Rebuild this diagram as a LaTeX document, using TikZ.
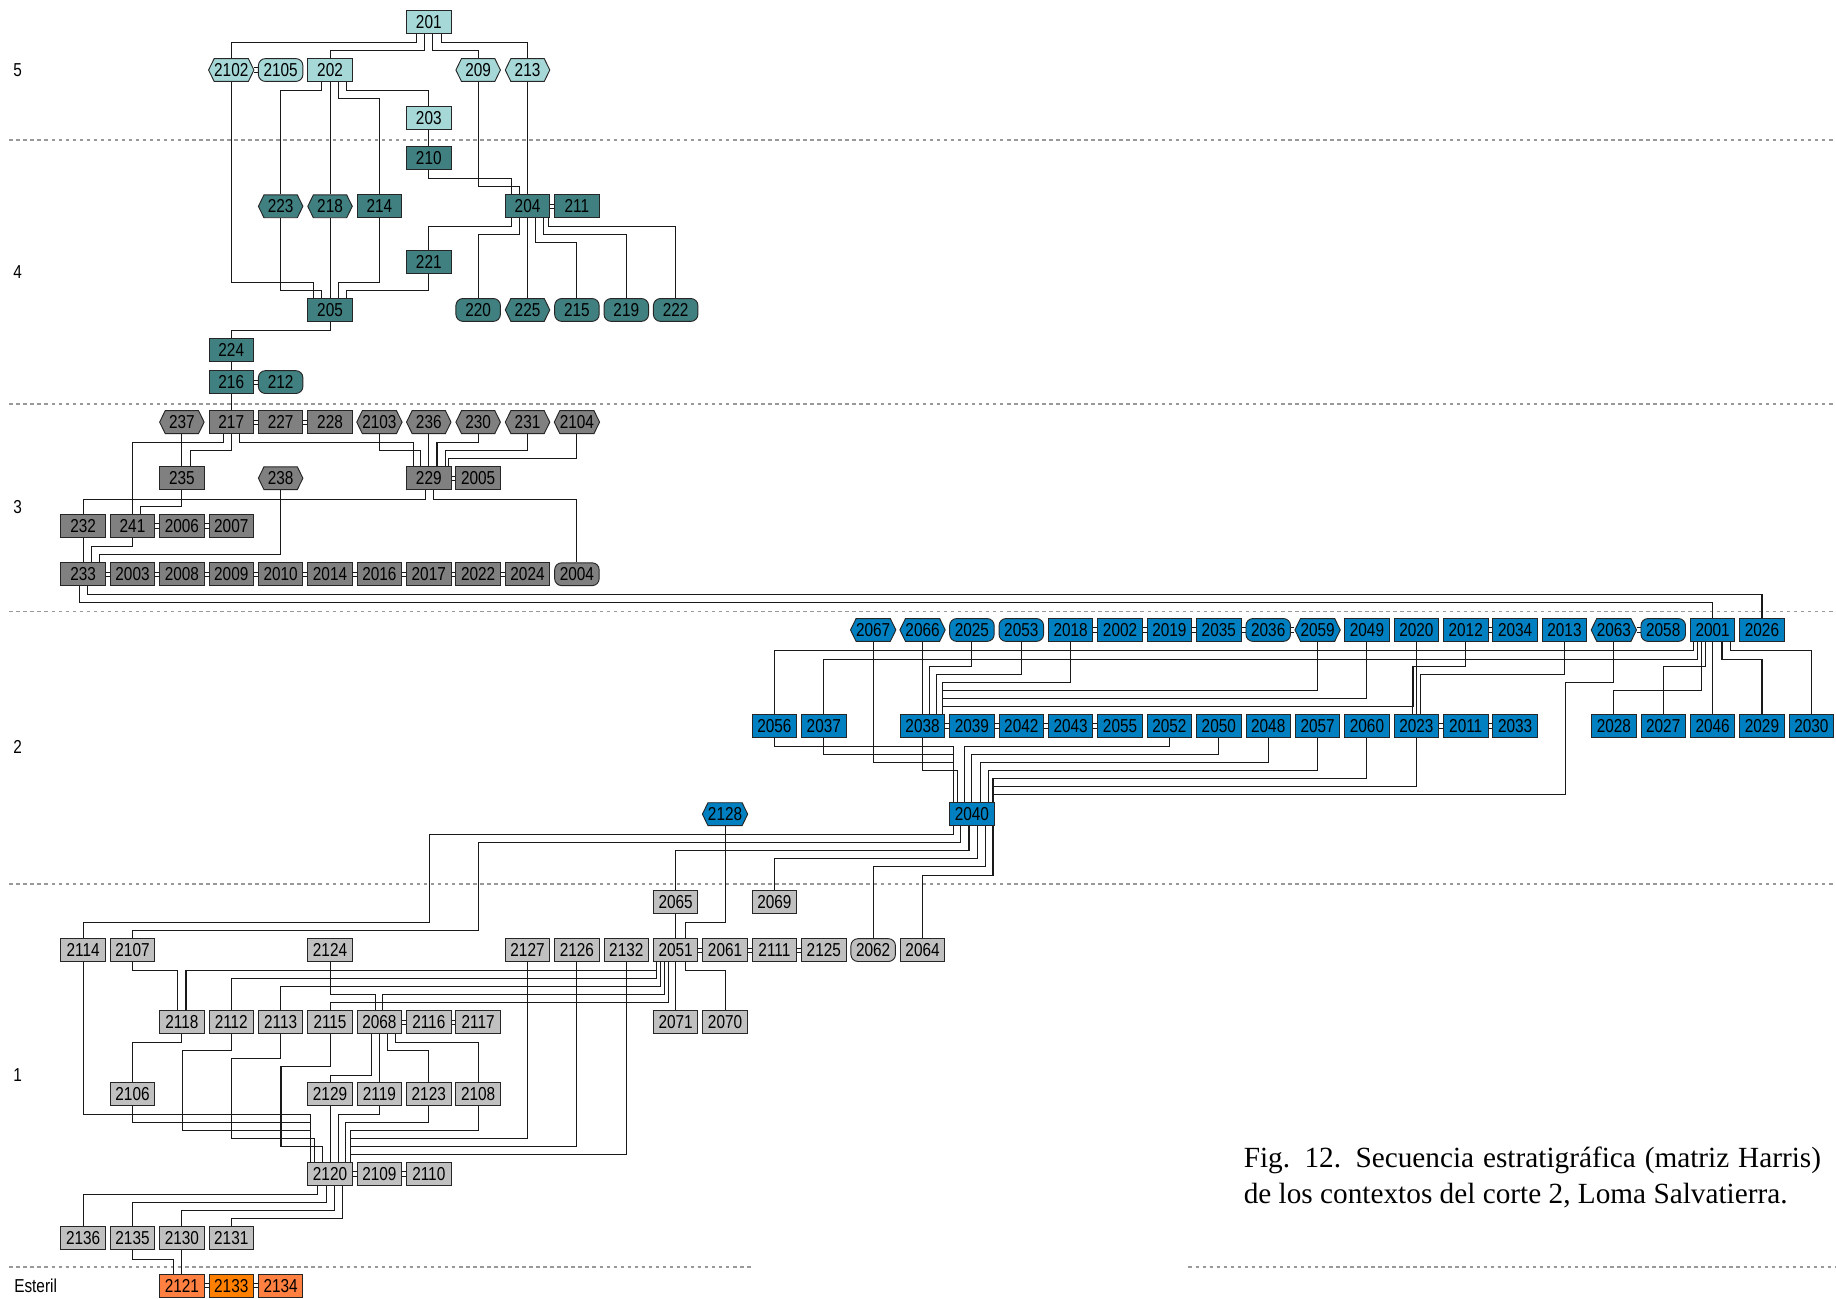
\documentclass[tikz,border=0pt]{standalone}
\usepackage{fontspec}
\usetikzlibrary{shapes.symbols,shapes.misc}
\newfontfamily\boxfont[FakeStretch=0.82]{Liberation Sans}
\newfontfamily\capfont{Liberation Serif}
\definecolor{lcyan}{RGB}{166,216,216}
\definecolor{tealL}{RGB}{64,128,128}
\definecolor{dgreyL}{RGB}{128,128,128}
\definecolor{blueL}{RGB}{0,128,192}
\definecolor{lgreyL}{RGB}{192,192,192}
\definecolor{orA}{RGB}{255,128,64}
\definecolor{orB}{RGB}{255,128,0}
\newcommand\N[4]{\node[box,#1] (n#4) at ({71+42.17*#2},#3) {#4};}
\newcommand\E[5]{\path ([xshift=#2pt]#1.south) coordinate (eA) ([xshift=#5pt]#4.north) coordinate (eB);
  \draw[conn] (eA) -- (eA |- 0,#3) -| (eB);}
\newcommand\Sd[2]{\draw[conn] (#1.south) -- (#2.north);}
\newcommand\Q[2]{\draw[eqv] ([yshift=1.8pt]#1.east) -- ([yshift=1.8pt]#2.west) ([yshift=-1.8pt]#1.east) -- ([yshift=-1.8pt]#2.west);}
\begin{document}
\begin{tikzpicture}[x=1pt,y=-1pt,
  box/.style={shape=rectangle,minimum width=38pt,minimum height=19.5pt,inner sep=0pt,
    draw=black!85,line width=0.8pt,font=\boxfont\fontsize{16}{16}\selectfont},
  hx/.style={shape=signal,signal to=east and west,signal pointer angle=128},
  rd/.style={rounded corners=6pt},
  L5/.style={fill=lcyan},
  L4/.style={fill=tealL},
  L3/.style={fill=dgreyL},
  L2/.style={fill=blueL},
  L1/.style={fill=lgreyL},
  LoA/.style={fill=orA},
  LoB/.style={fill=orB},
  conn/.style={draw=black!90,line width=0.9pt},
  eqv/.style={draw=black!90,line width=0.8pt},
  sepline/.style={draw=black!40,line width=1pt,dash pattern=on 3pt off 3pt},
  lvl/.style={font=\boxfont\fontsize{16}{16}\selectfont,inner sep=0pt}]
\fill[white] (0,0) rectangle (1568,1109);
\useasboundingbox (0,0) rectangle (1568,1109);
% level separators
\draw[sepline] (8,119.5) -- (1568,119.5);
\draw[sepline] (8,345) -- (1568,345);
\draw[sepline] (8,522.5) -- (1568,522.5);
\draw[sepline] (8,755) -- (1568,755);
\draw[sepline] (8,1082) -- (642,1082);
\draw[sepline] (1015,1082) -- (1568,1082);
% level labels
\node[lvl] (lab5) at (15,60) {5};
\node[lvl] (lab4) at (15,232) {4};
\node[lvl] (lab3) at (15,433) {3};
\node[lvl] (lab2) at (15,638) {2};
\node[lvl] (lab1) at (15,918) {1};
\node[lvl,anchor=west] (labE) at (12,1098) {Esteril};
% ---- level 5
\N{L5}{7}{18.8}{201}
\N{L5,hx}{3}{59.8}{2102}
\N{L5,rd}{4}{59.8}{2105}
\N{L5}{5}{59.8}{202}
\N{L5,hx}{8}{59.8}{209}
\N{L5,hx}{9}{59.8}{213}
\N{L5}{7}{100.8}{203}
% ---- level 4
\N{L4}{7}{135}{210}
\N{L4,hx}{4}{176.2}{223}
\N{L4,hx}{5}{176.2}{218}
\N{L4}{6}{176.2}{214}
\N{L4}{9}{176.2}{204}
\N{L4}{10}{176.2}{211}
\N{L4}{7}{224}{221}
\N{L4}{5}{264.7}{205}
\N{L4,rd}{8}{264.7}{220}
\N{L4,hx}{9}{264.7}{225}
\N{L4,rd}{10}{264.7}{215}
\N{L4,rd}{11}{264.7}{219}
\N{L4,rd}{12}{264.7}{222}
\N{L4}{3}{299}{224}
\N{L4}{3}{326.3}{216}
\N{L4,rd}{4}{326.3}{212}
% ---- level 3
\N{L3,hx}{2}{360.5}{237}
\N{L3}{3}{360.5}{217}
\N{L3}{4}{360.5}{227}
\N{L3}{5}{360.5}{228}
\N{L3,hx}{6}{360.5}{2103}
\N{L3,hx}{7}{360.5}{236}
\N{L3,hx}{8}{360.5}{230}
\N{L3,hx}{9}{360.5}{231}
\N{L3,hx}{10}{360.5}{2104}
\N{L3}{2}{408.4}{235}
\N{L3,hx}{4}{408.4}{238}
\N{L3}{7}{408.4}{229}
\N{L3}{8}{408.4}{2005}
\N{L3}{0}{449.1}{232}
\N{L3}{1}{449.1}{241}
\N{L3}{2}{449.1}{2006}
\N{L3}{3}{449.1}{2007}
\N{L3}{0}{490.4}{233}
\N{L3}{1}{490.4}{2003}
\N{L3}{2}{490.4}{2008}
\N{L3}{3}{490.4}{2009}
\N{L3}{4}{490.4}{2010}
\N{L3}{5}{490.4}{2014}
\N{L3}{6}{490.4}{2016}
\N{L3}{7}{490.4}{2017}
\N{L3}{8}{490.4}{2022}
\N{L3}{9}{490.4}{2024}
\N{L3,rd}{10}{490.4}{2004}
% ---- level 2
\N{L2,hx}{16}{538}{2067}
\N{L2,hx}{17}{538}{2066}
\N{L2,rd}{18}{538}{2025}
\N{L2,rd}{19}{538}{2053}
\N{L2}{20}{538}{2018}
\N{L2}{21}{538}{2002}
\N{L2}{22}{538}{2019}
\N{L2}{23}{538}{2035}
\N{L2,rd}{24}{538}{2036}
\N{L2,hx}{25}{538}{2059}
\N{L2}{26}{538}{2049}
\N{L2}{27}{538}{2020}
\N{L2}{28}{538}{2012}
\N{L2}{29}{538}{2034}
\N{L2}{30}{538}{2013}
\N{L2,hx}{31}{538}{2063}
\N{L2,rd}{32}{538}{2058}
\N{L2}{33}{538}{2001}
\N{L2}{34}{538}{2026}
\N{L2}{14}{620}{2056}
\N{L2}{15}{620}{2037}
\N{L2}{17}{620}{2038}
\N{L2}{18}{620}{2039}
\N{L2}{19}{620}{2042}
\N{L2}{20}{620}{2043}
\N{L2}{21}{620}{2055}
\N{L2}{22}{620}{2052}
\N{L2}{23}{620}{2050}
\N{L2}{24}{620}{2048}
\N{L2}{25}{620}{2057}
\N{L2}{26}{620}{2060}
\N{L2}{27}{620}{2023}
\N{L2}{28}{620}{2011}
\N{L2}{29}{620}{2033}
\N{L2}{31}{620}{2028}
\N{L2}{32}{620}{2027}
\N{L2}{33}{620}{2046}
\N{L2}{34}{620}{2029}
\N{L2}{35}{620}{2030}
\N{L2,hx}{13}{695.3}{2128}
\N{L2}{18}{695.3}{2040}
% ---- level 1
\N{L1}{12}{770}{2065}
\N{L1}{14}{770}{2069}
\N{L1}{0}{811.4}{2114}
\N{L1}{1}{811.4}{2107}
\N{L1}{5}{811.4}{2124}
\N{L1}{9}{811.4}{2127}
\N{L1}{10}{811.4}{2126}
\N{L1}{11}{811.4}{2132}
\N{L1}{12}{811.4}{2051}
\N{L1}{13}{811.4}{2061}
\N{L1}{14}{811.4}{2111}
\N{L1}{15}{811.4}{2125}
\N{L1,rd}{16}{811.4}{2062}
\N{L1}{17}{811.4}{2064}
\N{L1}{2}{873}{2118}
\N{L1}{3}{873}{2112}
\N{L1}{4}{873}{2113}
\N{L1}{5}{873}{2115}
\N{L1}{6}{873}{2068}
\N{L1}{7}{873}{2116}
\N{L1}{8}{873}{2117}
\N{L1}{12}{873}{2071}
\N{L1}{13}{873}{2070}
\N{L1}{1}{934.4}{2106}
\N{L1}{5}{934.4}{2129}
\N{L1}{6}{934.4}{2119}
\N{L1}{7}{934.4}{2123}
\N{L1}{8}{934.4}{2108}
\N{L1}{5}{1002.5}{2120}
\N{L1}{6}{1002.5}{2109}
\N{L1}{7}{1002.5}{2110}
\N{L1}{0}{1057.4}{2136}
\N{L1}{1}{1057.4}{2135}
\N{L1}{2}{1057.4}{2130}
\N{L1}{3}{1057.4}{2131}
\N{LoA}{2}{1098}{2121}
\N{LoB}{3}{1098}{2133}
\N{LoA}{4}{1098}{2134}
% ---- equivalences
\Q{n2102}{n2105}
\Q{n204}{n211}
\Q{n216}{n212}
\Q{n217}{n227} \Q{n227}{n228}
\Q{n229}{n2005}
\Q{n241}{n2006} \Q{n2006}{n2007}
\Q{n233}{n2003} \Q{n2003}{n2008} \Q{n2008}{n2009} \Q{n2009}{n2010} \Q{n2010}{n2014}
\Q{n2014}{n2016} \Q{n2016}{n2017} \Q{n2017}{n2022} \Q{n2022}{n2024}
\Q{n2018}{n2002} \Q{n2002}{n2019} \Q{n2019}{n2035} \Q{n2035}{n2036} \Q{n2036}{n2059}
\Q{n2012}{n2034}
\Q{n2063}{n2058}
\Q{n2038}{n2039} \Q{n2039}{n2042} \Q{n2042}{n2043} \Q{n2043}{n2055}
\Q{n2023}{n2011} \Q{n2011}{n2033}
\Q{n2051}{n2061} \Q{n2061}{n2111} \Q{n2111}{n2125}
\Q{n2068}{n2116} \Q{n2116}{n2117}
\Q{n2120}{n2109} \Q{n2109}{n2110}
\Q{n2121}{n2133} \Q{n2133}{n2134}
% ---- connectors level 5/4
\E{n201}{-10.5}{36.5}{n2102}{0}
\E{n201}{-3.5}{43.3}{n202}{0}
\E{n201}{3.5}{43.3}{n209}{0}
\E{n201}{10.5}{36.5}{n213}{0}
\E{n202}{-7}{77.5}{n223}{0}
\Sd{n202}{n218}
\E{n202}{7}{84.3}{n214}{0}
\E{n202}{14}{77.5}{n203}{0}
\Sd{n203}{n210}
\E{n210}{0}{152.4}{n204}{-13.5}
\E{n209}{0}{159.5}{n204}{-7}
\Sd{n213}{n204}
\E{n204}{-14}{193.7}{n221}{0}
\E{n204}{-7}{200.6}{n220}{0}
\Sd{n204}{n225}
\E{n204}{7}{207.4}{n215}{0}
\E{n204}{13.5}{200.6}{n219}{0}
\E{n204}{17.5}{193.7}{n222}{0}
\E{n2102}{0}{241.6}{n205}{-14}
\E{n223}{0}{248.4}{n205}{-7}
\Sd{n218}{n205}
\E{n214}{0}{241.6}{n205}{7}
\E{n221}{0}{248.4}{n205}{14}
\E{n205}{0}{282.4}{n224}{0}
\Sd{n224}{n216}
\Sd{n216}{n217}
% ---- level 3
\E{n217}{-7}{377.9}{n241}{0}
\E{n217}{0}{385}{n235}{7}
\E{n217}{7}{377.9}{n229}{-13}
\Sd{n237}{n235}
\E{n2103}{0}{385}{n229}{-7}
\Sd{n236}{n229}
\E{n230}{0}{377.9}{n229}{7}
\E{n231}{0}{385}{n229}{14}
\E{n2104}{0}{391.5}{n229}{17}
\E{n235}{0}{432.8}{n241}{7}
\E{n229}{-3}{426.3}{n232}{0}
\E{n229}{4}{426.3}{n2004}{0}
\Sd{n232}{n233}
\E{n241}{0}{467}{n233}{7}
\E{n238}{0}{473.9}{n233}{14}
\E{n233}{3.5}{507.5}{n2026}{0}
\E{n233}{-3.5}{514.9}{n2001}{0}
% ---- level 2
\Sd{n2066}{n2038}
\E{n2025}{0}{569.4}{n2038}{6}
\E{n2053}{0}{576.3}{n2038}{12}
\E{n2018}{0}{583.1}{n2038}{17}
\E{n2059}{0}{590}{n2038}{17}
\E{n2049}{0}{596.8}{n2038}{17}
\draw[conn] (n2012.south) |- (1207,569.4) -- (1207,603.6) -| ([xshift=17pt]n2038.north);
\E{n2012}{0}{569.4}{n2023}{-3}
\Sd{n2020}{n2023}
\E{n2013}{0}{576.3}{n2023}{3.5}
\draw[conn] (n2063.south) |- (1336.8,583.1) -- (1336.8,678.3) -| ([xshift=18pt]n2040.north);
\E{n2001}{-16.5}{555.8}{n2056}{0}
\E{n2001}{-13}{562.9}{n2037}{0}
\E{n2001}{-9.5}{589.4}{n2028}{0}
\E{n2001}{-6}{569.4}{n2027}{0}
\Sd{n2001}{n2046}
\E{n2001}{8}{562.9}{n2029}{0}
\E{n2001}{15}{555.8}{n2030}{0}
\E{n2056}{0}{637.2}{n2040}{-16}
\E{n2037}{0}{644.4}{n2040}{-16}
\E{n2067}{0}{651.5}{n2040}{-16}
\E{n2038}{0}{658.3}{n2040}{-12.5}
\E{n2052}{0}{637.2}{n2040}{-6.5}
\E{n2050}{0}{644.4}{n2040}{0}
\E{n2048}{0}{651.5}{n2040}{7}
\E{n2057}{0}{658.3}{n2040}{14}
\E{n2060}{0}{664.9}{n2040}{18}
\E{n2023}{0}{672}{n2040}{18}
\E{n2128}{0}{788}{n2051}{8}
\Sd{n2065}{n2051}
\draw[conn] ([xshift=-16pt]n2040.south) |- (366.5,712.5) -- (366.5,787.8) -| (n2114.north);
\draw[conn] ([xshift=-9.5pt]n2040.south) |- (408.5,719.4) -- (408.5,794.9) -| (n2107.north);
\E{n2040}{-2.5}{726.5}{n2065}{0}
\E{n2040}{4.5}{733.3}{n2069}{0}
\E{n2040}{11.5}{740.2}{n2062}{0}
\E{n2040}{18}{747.3}{n2064}{0}
% ---- level 1
\E{n2107}{0}{829}{n2118}{-3.5}
\E{n2051}{-16}{829}{n2118}{3.5}
\E{n2051}{-16}{835.8}{n2112}{0}
\E{n2051}{-13}{842.6}{n2113}{0}
\E{n2051}{-9.5}{849.1}{n2068}{3}
\E{n2051}{-6}{856}{n2115}{0}
\E{n2124}{0}{849.1}{n2068}{-3.5}
\Sd{n2051}{n2071}
\E{n2051}{8}{829}{n2070}{0}
\E{n2118}{0}{890.6}{n2106}{0}
\E{n2068}{-7}{918.2}{n2129}{0}
\Sd{n2068}{n2119}
\E{n2068}{7}{897.4}{n2123}{0}
\E{n2068}{14}{890.6}{n2108}{0}
\E{n2114}{0}{951.9}{n2120}{-17}
\E{n2106}{0}{958.5}{n2120}{-17}
\draw[conn] (n2112.south) |- (155.5,897.4) -- (155.5,965.6) -| ([xshift=-17pt]n2120.north);
\draw[conn] (n2113.south) |- (197.6,904) -- (197.6,972.5) -| ([xshift=-13.5pt]n2120.north);
\draw[conn] (n2115.south) |- (240,911.1) -- (240,979.3) -| ([xshift=-6.5pt]n2120.north);
\Sd{n2129}{n2120}
\E{n2119}{0}{951.9}{n2120}{7}
\E{n2123}{0}{958.5}{n2120}{13.5}
\E{n2108}{0}{965.6}{n2120}{17.5}
\E{n2127}{0}{972.5}{n2120}{17.5}
\E{n2126}{0}{979.3}{n2120}{17.5}
\E{n2132}{0}{986.2}{n2120}{17.5}
\E{n2120}{-10.5}{1020.3}{n2136}{0}
\E{n2120}{-3}{1027.2}{n2135}{0}
\E{n2120}{4}{1034}{n2130}{0}
\E{n2120}{11}{1040.9}{n2131}{0}
\E{n2135}{0}{1075.3}{n2121}{-7}
\Sd{n2130}{n2121}
% ---- caption
\node[anchor=base west,inner sep=0pt,font=\capfont\fontsize{25}{30}\selectfont] (cap1) at (1062,997)
  {\makebox[493pt][s]{Fig. 12. Secuencia estratigráfica (matriz Harris)}};
\node[anchor=base west,inner sep=0pt,font=\capfont\fontsize{25}{30}\selectfont] (cap2) at (1062,1027.5)
  {de los contextos del corte 2, Loma Salvatierra.};
\end{tikzpicture}
\end{document}
